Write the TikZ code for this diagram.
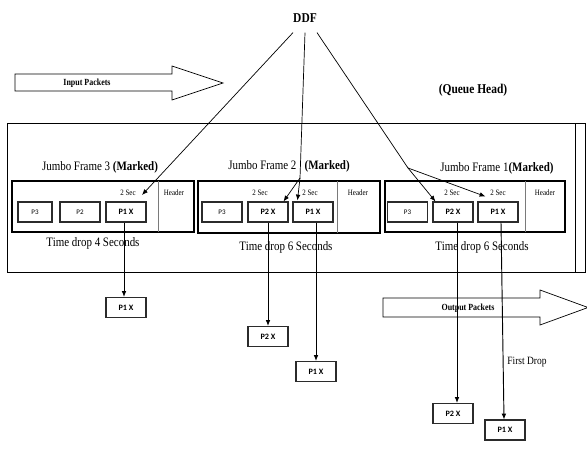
\documentclass[tikz,border=0pt]{standalone}
\usepackage{fontspec}
\setmainfont{Liberation Serif}[FakeStretch=0.85]
\newfontfamily\pktfont{Carlito}
\usepackage{tikz}
\usetikzlibrary{arrows.meta, positioning, calc}
\definecolor{inkBox}{HTML}{2B2B2B}
\definecolor{inkDiv}{HTML}{7A7A7A}
\tikzset{
  pkt/.style={draw=inkBox, line width=0.9pt, fill=white, minimum width=1.2cm, minimum height=0.6cm,
              inner sep=0pt, font=\pktfont\bfseries\fontsize{7}{8}\selectfont},
  pktplain/.style={pkt, font=\pktfont\fontsize{6}{7}\selectfont},
  frameline/.style={line width=1.1pt},
  small/.style={font=\fontsize{7}{8}\selectfont},
  title/.style={font=\fontsize{11}{13}\selectfont},
  bigarrow/.style={draw, line width=0.6pt, fill=white},
  arrow/.style={-{Latex[length=5pt,width=4pt]}, line width=0.6pt},
}
\begin{document}
\begin{tikzpicture}[x=0.03cm, y=-0.03cm]
\useasboundingbox (0,0) rectangle (587,449);

\draw[bigarrow] (15,74) -- (172,74) -- (172,66) -- (223,83) -- (172,100) -- (172,91) -- (15,91) -- cycle;
\node[font=\bfseries\fontsize{8}{9}\selectfont] (inLbl) at (87,83) {Input Packets};
\draw[bigarrow] (383,298) -- (540,298) -- (540,290) -- (588,307.5) -- (540,325) -- (540,317) -- (383,317) -- cycle;
\node[font=\bfseries\fontsize{8}{9}\selectfont] (outLbl) at (468,308) {Output Packets};

\node[font=\bfseries\fontsize{11.5}{13}\selectfont, inner xsep=0pt, inner ysep=8.5pt] (ddf) at (305,18) {DDF};
\node[font=\bfseries\fontsize{11.5}{13}\selectfont] (qHead) at (473,90) {(Queue Head)};

\draw[line width=0.6pt] (7,123) rectangle (585,272);
\draw[line width=0.6pt] (575,123) -- (575,272);

\node[title] (jf3) at (100,167) {Jumbo Frame 3 \textbf{(Marked)}};
\node[title] (jf2) at (289,166) {Jumbo Frame 2\hspace{7pt}\textbf{(Marked)}};
\node[title] (jf1) at (497,168) {Jumbo Frame 1\textbf{(Marked)}};

\draw[frameline] (12,181) rectangle (194,232);
\draw[color=inkDiv, line width=0.5pt] (158,181) -- (158,232);
\draw[frameline] (198,181) rectangle (380,233);
\draw[color=inkDiv, line width=0.5pt] (337,181) -- (337,233);
\draw[frameline] (385,181) rectangle (565,232);
\draw[color=inkDiv, line width=0.5pt] (525,181) -- (525,232);

\node[small] (hd3) at (174,193) {Header};
\node[small] (hd2) at (358,193) {Header};
\node[small] (hd1) at (545,193) {Header};
\node[small] (s3a) at (128,193) {2 Sec};
\node[small] (s2b) at (260,193) {2 Sec};
\node[small] (s2a) at (310,193) {2 Sec};
\node[small] (s1b) at (452,193) {2 Sec};
\node[small] (s1a) at (498,193) {2 Sec};

\node[pktplain, minimum width=1.02cm] (f3p3) at (35,212) {P3};
\node[pktplain] (f3p2) at (80,212) {P2};
\node[pkt] (f3p1) at (126,212) {P1 X};
\node[pktplain] (f2p3) at (222,212) {P3};
\node[pkt] (f2p2) at (268,212) {P2 X};
\node[pkt] (f2p1) at (313,212) {P1 X};
\node[pktplain] (f1p3) at (407.5,212) {P3};
\node[pkt] (f1p2) at (453,212) {P2 X};
\node[pkt] (f1p1) at (498,212) {P1 X};

\node[title] (td3) at (93,243) {Time drop 4 Seconds};
\node[title] (td2) at (286,247) {Time drop 6 Seconds};
\node[title] (td1) at (482,247) {Time drop 6 Seconds};

\node[pkt] (d3p1) at (126,307.5) {P1 X};
\node[pkt] (d2p2) at (268,336.5) {P2 X};
\node[pkt] (d2p1) at (316,371.5) {P1 X};
\node[pkt] (d1p2) at (453,413.5) {P2 X};
\node[pkt] (d1p1) at (505,430) {P1 X};
\node[font=\fontsize{9.5}{11}\selectfont] (firstDrop) at (527,362) {First Drop};

\coordinate (t3) at (142,195);
\coordinate (b2) at (300,178);
\coordinate (b1) at (408,168);
\draw[arrow] (ddf.south west) -- (t3);
\draw[line width=0.6pt] (ddf.south) -- (b2);
\draw[arrow] (b2) -- ($(f2p1.north west)+(5,-1)$);
\draw[arrow] (b2) -- ($(f2p2.north east)+(-5,0)$);
\draw[line width=0.6pt] (ddf.south east) -- (b1);
\draw[arrow] (b1) -- ($(f1p2.north west)+(3,0)$);
\draw[arrow] (b1) -- ($(f1p1.north west)+(8,-5)$);

\draw[arrow, line width=0.8pt] ($(f3p1.south)+(-2,0)$) -- ($(d3p1.north)+(-2,0)$);
\draw[arrow, line width=0.8pt] (f2p2.south) -- (d2p2.north);
\draw[arrow, line width=0.8pt] ($(f2p1.south)+(3,0)$) -- (d2p1.north);
\draw[arrow, line width=0.8pt] ($(f1p2.south)+(4,0)$) -- ($(d1p2.north)+(4,0)$);
\draw[arrow, line width=0.8pt] ($(f1p1.south)+(3,0)$) -- ($(d1p1.north)+(-1,0)$);
\end{tikzpicture}
\end{document}
